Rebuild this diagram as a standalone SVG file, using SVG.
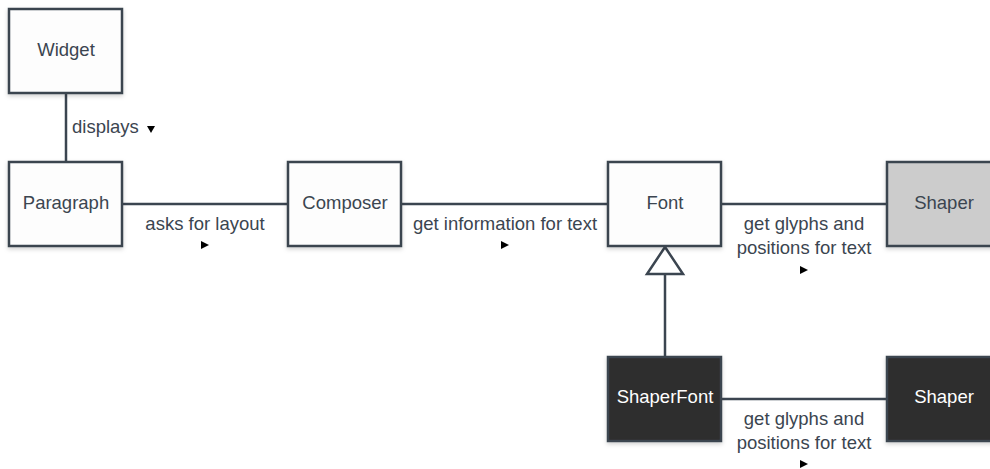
<svg xmlns="http://www.w3.org/2000/svg" width="990" height="469" viewBox="0 0 990 469">
  <defs>
    <filter id="shadow" x="-10%" y="-10%" width="130%" height="130%">
      <feDropShadow dx="0" dy="2" stdDeviation="2" flood-color="#000" flood-opacity="0.18"/>
    </filter>
    <style>
      .box { fill: #fdfdfd; stroke: #3b4550; stroke-width: 2.5; filter: url(#shadow); }
      .box.grey { fill: #cccccc; }
      .box.dark { fill: #2e2e2e; }
      .lbl { font-family: "Liberation Sans", Arial, sans-serif; font-size: 18.5px; fill: #3b4550; text-anchor: middle; }
      .lbl.light { fill: #ffffff; }
      .edge { stroke: #3b4550; stroke-width: 2.5; fill: none; }
      .elbl { font-family: "Liberation Sans", Arial, sans-serif; font-size: 18.5px; fill: #3b4550; text-anchor: middle; }
      .dir { fill: #000000; }
    </style>
  </defs>
  <rect width="990" height="469" fill="#ffffff"/>

  <g id="connectors">
    <!-- Widget - Paragraph -->
    <line class="edge" x1="66" y1="93" x2="66" y2="162"/>
    <text class="elbl" x="72" y="133" style="text-anchor:start">displays</text>
    <path class="dir" d="M147 126 L155 126 L151 133 Z"/>

    <!-- Paragraph - Composer -->
    <line class="edge" x1="122" y1="204" x2="288" y2="204"/>
    <text class="elbl" x="205" y="230">asks for layout</text>
    <path class="dir" d="M201 241 L209 245 L201 249 Z"/>

    <!-- Composer - Font -->
    <line class="edge" x1="401" y1="204" x2="608" y2="204"/>
    <text class="elbl" x="505" y="230">get information for text</text>
    <path class="dir" d="M501 241 L509 245 L501 249 Z"/>

    <!-- Font - Shaper -->
    <line class="edge" x1="721" y1="204" x2="887" y2="204"/>
    <text class="elbl" x="804" y="230">get glyphs and</text>
    <text class="elbl" x="804" y="254">positions for text</text>
    <path class="dir" d="M800 266 L808 270 L800 274 Z"/>

    <!-- ShaperFont - Shaper -->
    <line class="edge" x1="721" y1="399" x2="887" y2="399"/>
    <text class="elbl" x="804" y="425">get glyphs and</text>
    <text class="elbl" x="804" y="449">positions for text</text>
    <path class="dir" d="M800 460 L808 464 L800 468 Z"/>

    <!-- ShaperFont generalizes Font -->
    <line class="edge" x1="665" y1="274" x2="665" y2="356"/>
    <path class="edge" d="M665 247 L683 274 L647 274 Z" style="fill:#ffffff"/>
  </g>

  <g id="widget">
    <rect class="box" x="9" y="9" width="113" height="84"/>
    <text class="lbl" x="66" y="56">Widget</text>
  </g>
  <g id="paragraph">
    <rect class="box" x="9" y="162" width="113" height="84"/>
    <text class="lbl" x="66" y="209">Paragraph</text>
  </g>
  <g id="composer">
    <rect class="box" x="288" y="162" width="113" height="84"/>
    <text class="lbl" x="345" y="209">Composer</text>
  </g>
  <g id="font">
    <rect class="box" x="608" y="162" width="113" height="84"/>
    <text class="lbl" x="665" y="209">Font</text>
  </g>
  <g id="shaper">
    <rect class="box grey" x="887" y="162" width="113" height="84"/>
    <text class="lbl" x="944" y="209">Shaper</text>
  </g>
  <g id="shaperfont">
    <rect class="box dark" x="608" y="357" width="113" height="84"/>
    <text class="lbl light" x="665" y="403">ShaperFont</text>
  </g>
  <g id="shaper-2">
    <rect class="box dark" x="887" y="357" width="113" height="84"/>
    <text class="lbl light" x="944" y="403">Shaper</text>
  </g>
</svg>
